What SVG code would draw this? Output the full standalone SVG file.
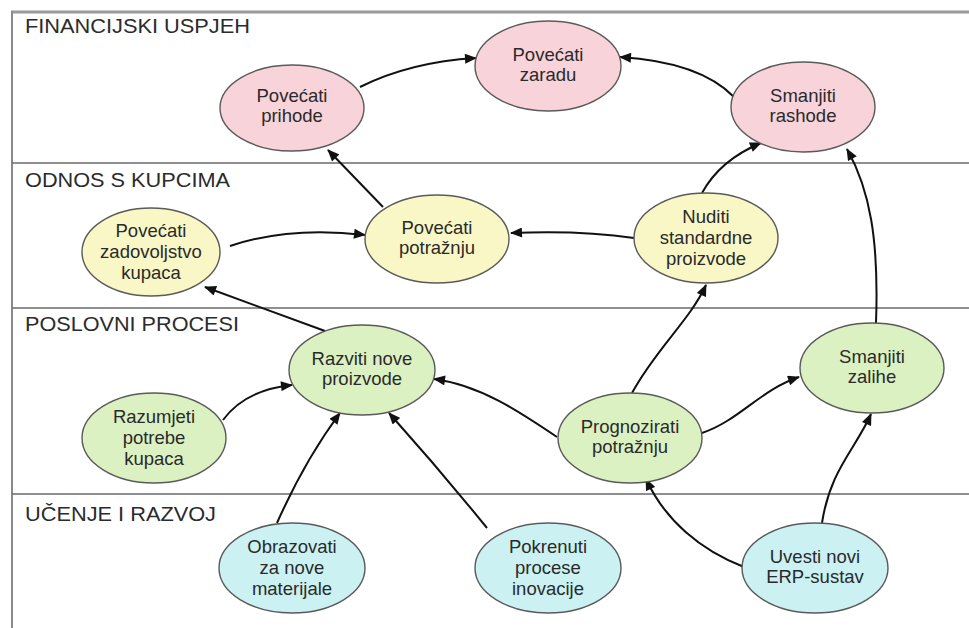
<svg xmlns="http://www.w3.org/2000/svg" width="969" height="628" viewBox="0 0 969 628">
<defs>
<style>
.lane{fill:#2b2b2b;font-family:"Liberation Sans",Arial,sans-serif;font-size:20px}
.sep{stroke:#6a6a6a;stroke-width:1.5;fill:none}
.n ellipse{stroke:#5a5a5a;stroke-width:1.4}
.n text{fill:#2a2a2a;font-family:"Liberation Sans",Arial,sans-serif;font-size:18.5px;text-anchor:middle}
.fin ellipse{fill:#f8d3da}
.kup ellipse{fill:#f9f7c6}
.pro ellipse{fill:#dcf1c2}
.uce ellipse{fill:#cbf1f3}
#edges path{stroke:#111;stroke-width:2;fill:none;marker-end:url(#ah)}
</style>
<marker id="ah" viewBox="0 0 12 10" refX="11" refY="5" markerWidth="13" markerHeight="10" markerUnits="userSpaceOnUse" orient="auto"><path d="M0,0 L12,5 L0,10 z" fill="#111"/></marker>
</defs>
<rect width="969" height="628" fill="#ffffff"/>
<g id="lanes">
<line x1="11" y1="12" x2="969" y2="12" stroke="#9a9a9a" stroke-width="3"/>
<line x1="12" y1="11" x2="12" y2="628" stroke="#8a8a8a" stroke-width="2"/>
<line class="sep" x1="12" y1="163" x2="969" y2="163"/>
<line class="sep" x1="12" y1="308" x2="969" y2="308"/>
<line class="sep" x1="12" y1="494" x2="969" y2="494"/>
<text class="lane" x="25" y="33" textLength="225" lengthAdjust="spacingAndGlyphs">FINANCIJSKI USPJEH</text>
<text class="lane" x="25" y="187" textLength="205" lengthAdjust="spacingAndGlyphs">ODNOS S KUPCIMA</text>
<text class="lane" x="25" y="331" textLength="214" lengthAdjust="spacingAndGlyphs">POSLOVNI PROCESI</text>
<text class="lane" x="25" y="521" textLength="191" lengthAdjust="spacingAndGlyphs">UČENJE I RAZVOJ</text>
</g>
<g id="edges">
<path d="M360,87 Q410,62 476,58"/>
<path d="M734,97 Q700,62 620,57"/>
<path d="M383,207 L328,150"/>
<path d="M230,246 Q290,226 365,235"/>
<path d="M634,238 Q580,230 511,233"/>
<path d="M702,193 Q720,160 761,143"/>
<path d="M876,323 C879,240 870,190 847,149"/>
<path d="M325,331 L205,287"/>
<path d="M223,420 Q245,390 292,385"/>
<path d="M277,523 Q305,460 340,413"/>
<path d="M487,528 Q440,470 389,413"/>
<path d="M557,437 C520,412 480,385 434,379"/>
<path d="M632,393 C655,350 690,320 706,285"/>
<path d="M702,433 C740,420 760,390 799,377"/>
<path d="M822,523 C830,470 855,450 871,414"/>
<path d="M744,567 C700,550 665,520 646,479"/>
</g>
<g id="prihode" class="n fin"><ellipse cx="292" cy="108" rx="72" ry="43"/><text x="292" y="102">Povećati</text><text x="292" y="122">prihode</text></g>
<g id="zarada" class="n fin"><ellipse cx="548" cy="66" rx="73" ry="45"/><text x="548" y="61">Povećati</text><text x="548" y="81">zaradu</text></g>
<g id="rashodi" class="n fin"><ellipse cx="803" cy="107" rx="72" ry="45"/><text x="803" y="102">Smanjiti</text><text x="803" y="122">rashode</text></g>
<g id="zadovoljstvo" class="n kup"><ellipse cx="151" cy="252" rx="69" ry="44"/><text x="151" y="237">Povećati</text><text x="151" y="258">zadovoljstvo</text><text x="151" y="279">kupaca</text></g>
<g id="potraznja" class="n kup"><ellipse cx="437" cy="239" rx="72" ry="44"/><text x="437" y="234">Povećati</text><text x="437" y="254">potražnju</text></g>
<g id="nuditi" class="n kup"><ellipse cx="706" cy="238" rx="72" ry="45"/><text x="706" y="223">Nuditi</text><text x="706" y="244">standardne</text><text x="706" y="265">proizvode</text></g>
<g id="razviti" class="n pro"><ellipse cx="362" cy="370" rx="73" ry="45"/><text x="362" y="365">Razviti nove</text><text x="362" y="385">proizvode</text></g>
<g id="razumjeti" class="n pro"><ellipse cx="154" cy="438" rx="72" ry="45"/><text x="154" y="423">Razumjeti</text><text x="154" y="444">potrebe</text><text x="154" y="465">kupaca</text></g>
<g id="prognozirati" class="n pro"><ellipse cx="630" cy="438" rx="72" ry="45"/><text x="630" y="433">Prognozirati</text><text x="630" y="453">potražnju</text></g>
<g id="zalihe" class="n pro"><ellipse cx="872" cy="368" rx="72" ry="45"/><text x="872" y="363">Smanjiti</text><text x="872" y="383">zalihe</text></g>
<g id="obrazovati" class="n uce"><ellipse cx="292" cy="568" rx="73" ry="45"/><text x="292" y="553">Obrazovati</text><text x="292" y="574">za nove</text><text x="292" y="595">materijale</text></g>
<g id="pokrenuti" class="n uce"><ellipse cx="548" cy="568" rx="73" ry="45"/><text x="548" y="553">Pokrenuti</text><text x="548" y="574">procese</text><text x="548" y="595">inovacije</text></g>
<g id="erp" class="n uce"><ellipse cx="815" cy="568" rx="73" ry="45"/><text x="815" y="563">Uvesti novi</text><text x="815" y="583">ERP-sustav</text></g>
</svg>
